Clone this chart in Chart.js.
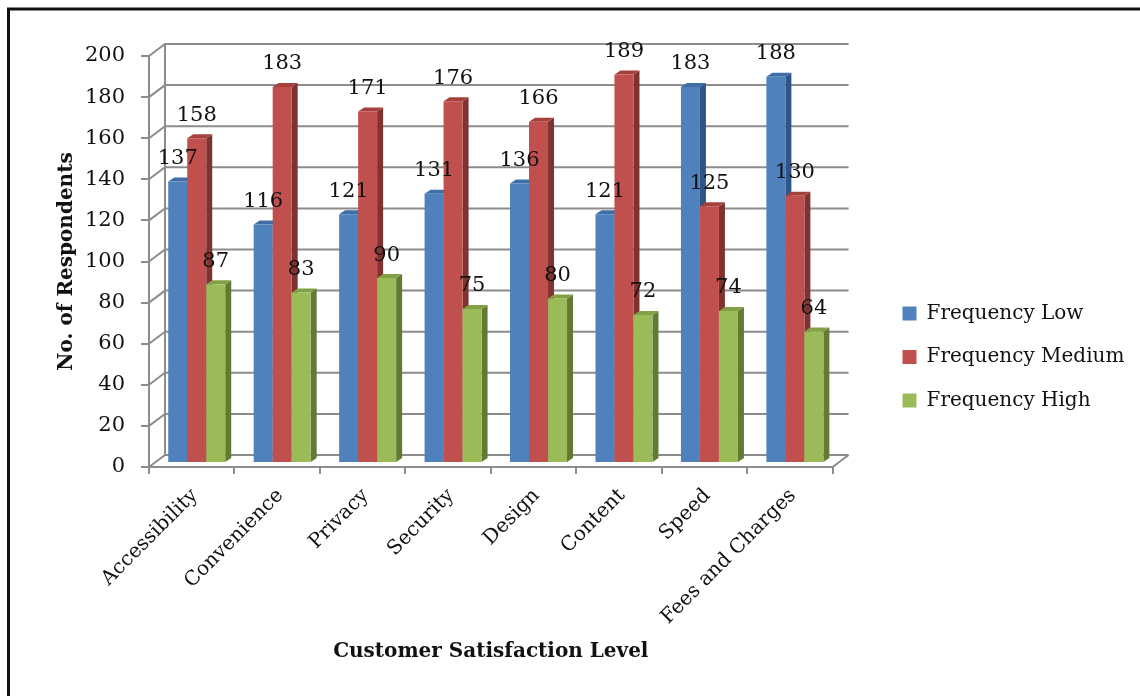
<!DOCTYPE html>
<html>
<head>
<meta charset="utf-8">
<title>Customer Satisfaction Level</title>
<script src="https://cdn.jsdelivr.net/npm/chart.js@4"></script>
<style>
  html, body { margin: 0; padding: 0; background: #fff; overflow: hidden; }
  #wrap { width: 1140px; height: 696px; position: relative; }
</style>
</head>
<body>
<div id="wrap"><canvas id="chart" width="1140" height="696"></canvas></div>
<script>
const categories = ['Accessibility', 'Convenience', 'Privacy', 'Security', 'Design', 'Content', 'Speed', 'Fees and Charges'];
const freqLow    = [137, 116, 121, 131, 136, 121, 183, 188];
const freqMedium = [158, 183, 171, 176, 166, 189, 125, 130];
const freqHigh   = [87, 83, 90, 75, 80, 72, 74, 64];

const FONT = '"DejaVu Serif", serif';
const GRID = '#8c8c8c';
const TEXT = '#111';

// per-series face colours: front, side, top
const faces = [
  { front: '#4f81bd', side: '#2f5487', top: '#3f6ea6' },
  { front: '#c0504d', side: '#7f3230', top: '#a5403d' },
  { front: '#9bbb59', side: '#637a35', top: '#84a045' }
];

// fake 3D: depth of the walls and of the bars, and how far bars sit inside the floor
const wallDX = 16, wallDY = -12;
const barDX = 6, barDY = -4;
const insetX = 5, insetY = -4;

function drawBarFaces(ctx, meta, col) {
  meta.data.forEach(bar => {
    const l = bar.x - bar.width / 2, r = bar.x + bar.width / 2;
    ctx.fillStyle = col.side;
    ctx.beginPath();
    ctx.moveTo(r, bar.y);
    ctx.lineTo(r + barDX, bar.y + barDY);
    ctx.lineTo(r + barDX, bar.base + barDY);
    ctx.lineTo(r, bar.base);
    ctx.closePath();
    ctx.fill();
    ctx.fillStyle = col.top;
    ctx.beginPath();
    ctx.moveTo(l, bar.y);
    ctx.lineTo(l + barDX, bar.y + barDY);
    ctx.lineTo(r + barDX, bar.y + barDY);
    ctx.lineTo(r, bar.y);
    ctx.closePath();
    ctx.fill();
  });
}

const walls = {
  id: 'walls',
  beforeDraw(chart) {
    // heavy rule along the top and left of the panel
    const { ctx, width, height } = chart;
    ctx.save();
    ctx.strokeStyle = '#111';
    ctx.lineWidth = 3;
    ctx.beginPath();
    ctx.moveTo(8.5, height);
    ctx.lineTo(8.5, 9);
    ctx.lineTo(width, 9);
    ctx.stroke();
    ctx.restore();
  },
  afterLayout(chart) {
    // legend sits well clear of the plot
    const lg = chart.legend;
    const w = lg.width;
    lg.left = 879;
    lg.right = lg.left + w;
    lg.top -= 3;
    lg.bottom -= 3;
  },
  beforeDatasetsDraw(chart) {
    const { ctx, scales: { x, y } } = chart;
    const left = x.left, right = x.right;
    ctx.save();
    ctx.strokeStyle = GRID;
    ctx.lineWidth = 2;
    ctx.beginPath();
    y.ticks.forEach(t => {
      const py = y.getPixelForValue(t.value);
      ctx.moveTo(left, py);
      ctx.lineTo(left + wallDX, py + wallDY);
      ctx.lineTo(right + wallDX, py + wallDY);
    });
    // back edge of the left wall and the floor's right edge
    const y0 = y.getPixelForValue(0), yMax = y.getPixelForValue(y.max);
    ctx.moveTo(left + wallDX, y0 + wallDY);
    ctx.lineTo(left + wallDX, yMax + wallDY);
    ctx.moveTo(right, y0);
    ctx.lineTo(right + wallDX, y0 + wallDY);
    ctx.stroke();
    ctx.restore();

    // bars go left to right so each one covers its neighbour's side face
    ctx.save();
    ctx.translate(insetX, insetY);
    chart.data.datasets.forEach((ds, i) => {
      const meta = chart.getDatasetMeta(i);
      drawBarFaces(ctx, meta, faces[i]);
      meta.controller.draw();
    });
    ctx.restore();
    return false;
  },
  afterDraw(chart) {
    // value labels float above each bar, over everything else
    const { ctx } = chart;
    ctx.save();
    ctx.font = '21px ' + FONT;
    ctx.fillStyle = TEXT;
    ctx.textAlign = 'center';
    ctx.textBaseline = 'middle';
    chart.data.datasets.forEach((ds, i) => {
      chart.getDatasetMeta(i).data.forEach((bar, j) => {
        ctx.fillText(ds.data[j], bar.x + insetX, bar.y + insetY - 23);
      });
    });
    ctx.restore();
  }
};

const series = [
  ['Frequency Low', freqLow],
  ['Frequency Medium', freqMedium],
  ['Frequency High', freqHigh]
];

new Chart(document.getElementById('chart'), {
  type: 'bar',
  plugins: [walls],
  data: {
    labels: categories,
    datasets: series.map(([label, data], i) => ({
      label,
      data,
      backgroundColor: faces[i].front
    }))
  },
  options: {
    responsive: false,
    animation: false,
    layout: { padding: { left: 55, top: 56, right: 52, bottom: 32 } },
    datasets: { bar: { barPercentage: 1, categoryPercentage: 0.667 } },
    scales: {
      x: {
        afterFit(s) { s.height = 197; },
        border: { color: GRID, width: 2 },
        grid: { offset: true, drawOnChartArea: false, color: GRID, lineWidth: 2, tickLength: 7 },
        ticks: { color: TEXT, font: { family: FONT, size: 20 }, minRotation: 45, maxRotation: 45, autoSkip: false, padding: 10, labelOffset: 3 },
        title: { display: true, text: 'Customer Satisfaction Level', color: TEXT, font: { family: FONT, size: 20, weight: 'bold' }, padding: { top: 0, bottom: 0 } }
      },
      y: {
        min: 0,
        max: 200,
        afterFit(s) { s.width = 94; },
        border: { color: GRID, width: 2 },
        grid: { drawOnChartArea: false, color: GRID, lineWidth: 2, tickLength: 8 },
        ticks: { stepSize: 20, color: TEXT, font: { family: FONT, size: 21 }, padding: 16 },
        title: { display: true, text: 'No. of Respondents', color: TEXT, font: { family: FONT, size: 20, weight: 'bold' }, padding: { top: 0, bottom: 0 } }
      }
    },
    plugins: {
      tooltip: { enabled: false },
      legend: {
        position: 'right',
        labels: { boxWidth: 14, boxHeight: 14, padding: 23.5, color: TEXT, font: { family: FONT, size: 20 } }
      }
    }
  }
});
</script>
</body>
</html>
